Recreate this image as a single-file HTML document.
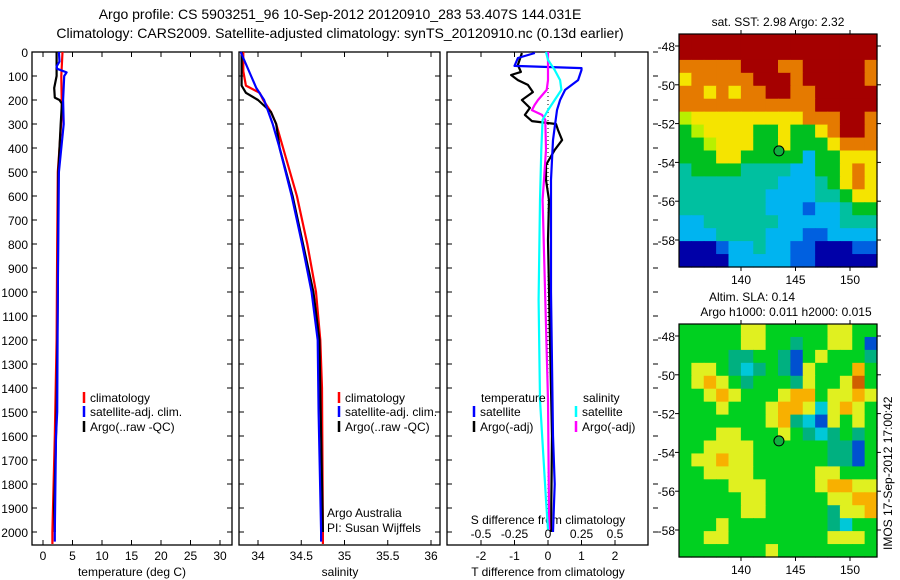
<!DOCTYPE html>
<html><head><meta charset="utf-8">
<style>
html,body{margin:0;padding:0;background:#fff;}
svg{display:block;font-family:"Liberation Sans",sans-serif;}
</style></head>
<body>
<svg id="chart" width="900" height="580" viewBox="0 0 900 580" xmlns="http://www.w3.org/2000/svg">
<text x="340" y="19" font-size="14" text-anchor="middle">Argo profile: CS 5903251_96 10-Sep-2012 20120910_283 53.407S 144.031E</text>
<text x="340" y="38" font-size="14" text-anchor="middle">Climatology: CARS2009. Satellite-adjusted climatology: synTS_20120910.nc (0.13d earlier)</text>
<g id="g"></g>
</svg>
<script>
// ---- data ----
const depthTicks = [0,100,200,300,400,500,600,700,800,900,1000,1100,1200,1300,1400,1500,1600,1700,1800,1900,2000];
const tempTicks = [0,5,10,15,20,25,30];
const salTicks = [34,34.5,35,35.5,36];
const tdiffTicks = [-2,-1,0,1,2];
const sdiffTicks = [-0.5,-0.25,0,0.25,0.5];
const latTicks = [-48,-50,-52,-54,-56,-58];
const lonTicks = [140,145,150];

const tempClimDepth = [0,100,250,400,500,800,1200,1600,2000,2050];
const tempClimVal   = [3.3,3.1,3.2,2.8,2.5,2.4,2.3,2.0,1.6,1.6];
const tempSatDepth = [0,40,60,70,85,100,200,300,500,1000,1500,1600,2000,2040];
const tempSatVal   = [2.7,2.8,2.3,2.4,4.0,3.6,3.4,3.5,2.7,2.5,2.4,2.2,2.0,2.0];
const tempArgoDepth = [0,100,150,190,200,215,300,500,1000,1500,1700,1900,2000];
const tempArgoVal   = [2.3,2.3,1.9,2.0,2.8,3.2,3.0,2.6,2.5,2.3,2.1,1.9,2.0];

const salClimDepth = [0,80,140,170,200,250,300,400,600,800,1000,1200,1400,2000,2050];
const salClimVal   = [33.83,33.83,33.86,34.02,34.06,34.15,34.21,34.29,34.45,34.57,34.67,34.72,34.74,34.75,34.75];
const salSatDepth = [0,50,100,150,200,300,400,600,800,1000,1200,1500,2000,2040];
const salSatVal   = [33.8,33.86,33.92,33.98,34.07,34.17,34.25,34.39,34.51,34.62,34.69,34.70,34.73,34.73];
const salArgoDepth = [0,140,170,200,250,300,400,600,800,1000,1200,1600,2000];
const salArgoVal   = [33.81,33.81,33.86,34.0,34.15,34.21,34.25,34.40,34.52,34.64,34.71,34.73,34.75];

const tdSatDepth = [4,25,58,67,75,117,158,200,242,304,367,533,1000,1600,1800,2000];
const tdSatVal   = [-0.39,-0.9,-1.0,1.0,1.0,0.9,0.51,0.36,0.27,0.21,0.15,0.09,0.09,0.15,0.2,0.15];
const tdArgoDepth = [4,54,83,96,117,137,167,200,233,262,288,300,325,367,408,471,533,617,783,1200,1600,2000];
const tdArgoVal   = [-0.78,-0.9,-0.81,-1.1,-0.9,-0.6,-0.45,-0.78,-0.54,-0.69,-0.48,0.24,0.3,0.42,0.2,-0.06,-0.06,0.03,0,0.06,0.12,0.09];
const sdSatDepth = [0,33,75,117,158,200,242,283,408,617,1033,1450,1867,1990];
const sdSatVal   = [-0.015,0,0.05,0.09,0.1,0.05,0,-0.04,-0.05,-0.06,-0.07,-0.06,-0.015,0];
const sdArgoDepth = [0,117,158,200,221,242,262,283,408,617,1033,1450,1867,1990];
const sdArgoVal   = [0,0,-0.01,-0.075,-0.1,-0.12,-0.045,-0.02,-0.015,-0.04,-0.02,0,0.007,0.01];

const sstGrid = [
"RRRRRRRRRRRRRRRR",
"RRRRRRRRRRRRRRRR",
"OOOOORRROORRRRRO",
"YOOOOORRRORRRRRO",
"OOYOYOORROORRRRR",
"OOOOOOOOOOORRRRR",
"LYYYYYYYYYOOORRO",
"GLYYYYGGYGGYORRO",
"GGLYYYGGYGGGYOOO",
"GGGYYGGGGGCGGYYY",
"TGGGGTTTTCCGGYOY",
"TTTTTTTTCCCTGYOY",
"TTTTTTTCCCCTTGYY",
"TTTTTTTCCCBCCTGG",
"CCTTTTTTCCCCCTTT",
"CCCTTTTCCCBBCCCC",
"NNNBCCTCCBBNNNBB",
"NNNNCCCCCBBNNNNN"];
const slaGrid = [
"GGGGGYYGGGGGYYGG",
"GGGGGYYGGTGGYYGB",
"GGGGTTGGTBGYGGGT",
"GYYGTCTGTBYGGGOG",
"GYOYGTGGGTYGGYRG",
"GGYOYGGGYOOGYYOY",
"GGGYGGGYOOYCYOYG",
"GGGGGGGYOTCBYGYG",
"GGGYYGGGYGTCTGTG",
"GGYYYYGGGGGGTTBG",
"GYYOYYGGGGGGTTBG",
"GGYYYYGGGGGYYGGG",
"GGGGYYYGGGGYOOYY",
"GGGGGYYGGGGGYYOO",
"GGGGGYYGGGGGTYYO",
"GGGYGGGGGGGGTCGG",
"GGYYGGGGGGGGYYYG",
"GGGGGGGYGGGGGGGG"];
const argoLon = 144.031, argoLat = -53.407;

// ---- drawing ----
const NS="http://www.w3.org/2000/svg";
const G=document.getElementById('g');
function mk(tag,attrs,parent){const e=document.createElementNS(NS,tag);for(const k in attrs)e.setAttribute(k,attrs[k]);(parent||G).appendChild(e);return e;}
function txt(x,y,s,size,anchor,name,parent){const t=mk('text',{x:x,y:y,'font-size':size,'text-anchor':anchor||'start'},parent);t.textContent=s;


return t;}

const TOP=52, BOT=545;
const yD = d => TOP + d*0.24;
const panels=[
 {x0:32,x1:232,fx:v=>43+v*5.9,name:'temperature-panel'},
 {x0:239,x1:440,fx:v=>258+(v-34)*86.5,name:'salinity-panel'},
 {x0:447,x1:648,fx:v=>548+v*33.5,name:'difference-panel'}];
const fS = v=>548+v*134;

panels.forEach((p,i)=>{
  const g=mk('g',{});
  
  
  p.g=g;
  const r=mk('rect',{x:p.x0,y:TOP,width:p.x1-p.x0,height:BOT-TOP,fill:'#fff',stroke:'#000','stroke-width':1.3},g);
  
  
  depthTicks.forEach(d=>{
    const y=yD(d);
    if(i<2){mk('line',{x1:p.x0,x2:p.x0+5,y1:y,y2:y,stroke:'#000'},g);mk('line',{x1:p.x1,x2:p.x1-5,y1:y,y2:y,stroke:'#000'},g);}
    else{mk('line',{x1:p.x0,x2:p.x0+5,y1:y,y2:y,stroke:'#000'},g);mk('line',{x1:p.x1+5,x2:p.x1+10,y1:y,y2:y,stroke:'#000'},g);}
  });
});
depthTicks.forEach(d=>txt(28,yD(d)+5,String(d),12,'end','depth-tick-label'));

function xTicks(p,ticks,f,labels){
  ticks.forEach(v=>{const x=f(v);
    mk('line',{x1:x,x2:x,y1:TOP,y2:TOP+5,stroke:'#000'},p.g);
    mk('line',{x1:x,x2:x,y1:BOT,y2:BOT-5,stroke:'#000'},p.g);
    if(labels)txt(x,560,String(v),12,'middle','x-tick-label');});
}
xTicks(panels[0],tempTicks,panels[0].fx,true);
xTicks(panels[1],salTicks,panels[1].fx,true);
xTicks(panels[2],tdiffTicks,panels[2].fx,true);
sdiffTicks.forEach(v=>txt(fS(v),538,String(v),12,'middle','s-diff-tick-label'));
txt(132,576,'temperature (deg C)',12,'middle','x-axis-title-temperature');
txt(340,576,'salinity',12,'middle','x-axis-title-salinity');
txt(548,576,'T difference from climatology',12,'middle','x-axis-title-t-diff');
txt(548,524,'S difference from climatology',12,'middle','s-diff-axis-title');

mk('line',{x1:548,x2:548,y1:yD(0),y2:yD(2000),stroke:'#000','stroke-dasharray':'1,3'});

function series(depths,vals,f,color,name,w){
  const pts=depths.map((d,i)=>f(vals[i]).toFixed(1)+','+yD(d).toFixed(1)).join(' ');
  const pl=mk('polyline',{points:pts,fill:'none',stroke:color,'stroke-width':w||2.2,'stroke-linejoin':'round'});
  
  
}
series(tempClimDepth,tempClimVal,panels[0].fx,'#f00','temp-climatology-line');
series(tempArgoDepth,tempArgoVal,panels[0].fx,'#000','temp-argo-line');
series(tempSatDepth,tempSatVal,panels[0].fx,'#00f','temp-satellite-line');
series(salClimDepth,salClimVal,panels[1].fx,'#f00','sal-climatology-line');
series(salArgoDepth,salArgoVal,panels[1].fx,'#000','sal-argo-line');
series(salSatDepth,salSatVal,panels[1].fx,'#00f','sal-satellite-line');
series(tdArgoDepth,tdArgoVal,panels[2].fx,'#000','tdiff-argo-line');
series(tdSatDepth,tdSatVal,panels[2].fx,'#00f','tdiff-satellite-line');
series(sdArgoDepth,sdArgoVal,fS,'#f0f','sdiff-argo-line');
series(sdSatDepth,sdSatVal,fS,'#0ff','sdiff-satellite-line');

function legend(x,y,color,label){
  const l=mk('line',{x1:x,x2:x,y1:y-10,y2:y+1,stroke:color,'stroke-width':2.5});
  
  
  txt(x+6,y,label,12,'start','legend-entry');
}
legend(84,402,'#f00','climatology');legend(84,416,'#00f','satellite-adj. clim.');legend(84,431,'#000','Argo(..raw -QC)');
legend(339,402,'#f00','climatology');legend(339,416,'#00f','satellite-adj. clim.');legend(339,431,'#000','Argo(..raw -QC)');
txt(481,402,'temperature',12,'start','legend-heading-temperature');
txt(583,402,'salinity',12,'start','legend-heading-salinity');
legend(474,416,'#00f','satellite');legend(474,431,'#000','Argo(-adj)');
legend(576,416,'#0ff','satellite');legend(576,431,'#f0f','Argo(-adj)');
txt(327,517,'Argo Australia',12,'start','credit-argo-australia');
txt(327,532,'PI: Susan Wijffels',12,'start','credit-pi');

// ---- maps ----
const colSST={R:'#a50000',O:'#e57a00',Y:'#f5e400',L:'#b8f000',G:'#00c020',T:'#00c0a0',C:'#00b4f0',B:'#0060e0',N:'#0000a8'};
const colSLA={G:'#00d020',Y:'#e0f020',O:'#f8b000',R:'#d06000',T:'#00b080',C:'#00c8d8',B:'#0050d0'};
function map(y0,y1,grid,cols,name,lat48,lat58){
  const x0=679,x1=877;
  const g=mk('g',{});
  
  
  const nr=grid.length,nc=grid[0].length,cw=(x1-x0)/nc,ch=(y1-y0)/nr;
  grid.forEach((row,r)=>{for(let c=0;c<nc;c++){
    mk('rect',{x:(x0+c*cw).toFixed(2),y:(y0+r*ch).toFixed(2),width:(cw+0.6).toFixed(2),height:(ch+0.6).toFixed(2),fill:cols[row[c]]},g);}});
  mk('rect',{x:x0,y:y0,width:x1-x0,height:y1-y0,fill:'none',stroke:'#000','stroke-width':1.2},g);
  const fy=lat=>lat48+(lat+48)/(-10)*(lat58-lat48);
  const fx=lon=>741+(lon-140)*10.9;
  latTicks.forEach(l=>{const y=fy(l);mk('line',{x1:x0-4,x2:x0,y1:y,y2:y,stroke:'#000'},g);mk('line',{x1:x1,x2:x1+4,y1:y,y2:y,stroke:'#000'},g);txt(x0-4,y+5,String(l),12,'end','lat-tick-label',g);});
  lonTicks.forEach(l=>{const x=fx(l);mk('line',{x1:x,x2:x,y1:y0-4,y2:y0,stroke:'#000'},g);mk('line',{x1:x,x2:x,y1:y1,y2:y1+4,stroke:'#000'},g);txt(x,y1+17,String(l),12,'middle','lon-tick-label',g);});
  const m=mk('circle',{cx:fx(argoLon)-6,cy:fy(argoLat),r:5,fill:'#10b040',stroke:'#000','stroke-width':1},g);
  
  
}
map(34,267,sstGrid,colSST,'sst-map',46,240);
map(324,557,slaGrid,colSLA,'sla-map',336,530);
txt(778,26,'sat. SST: 2.98 Argo: 2.32',12,'middle','sst-map-title');
txt(752,301,'Altim. SLA: 0.14',12,'middle','sla-map-title');
txt(786,316,'Argo h1000: 0.011 h2000: 0.015',12,'middle','sla-map-subtitle');
const v=txt(0,0,'IMOS 17-Sep-2012 17:00:42',12,'start','timestamp-label');
v.setAttribute('transform','translate(892,550) rotate(-90)');
</script>
</body></html>
